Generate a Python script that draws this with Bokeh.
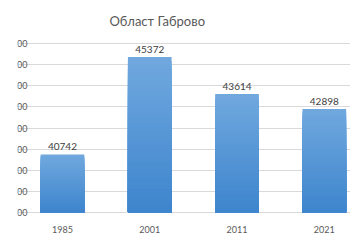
from bokeh.plotting import figure
from bokeh.models import ColumnDataSource, Label, FixedTicker, Range1d
from bokeh.embed import file_html
from bokeh.resources import INLINE

years = ["1985", "2001", "2011", "2021"]
population = [40742, 45372, 43614, 42898]
y_ticks = [38000, 39000, 40000, 41000, 42000, 43000, 44000, 45000, 46000]
title_text = "Област Габрово"

y_min, y_max = y_ticks[0], y_ticks[-1]
xs = list(range(len(years)))

p = figure(width=350, height=250, output_backend="svg", toolbar_location=None,
           x_range=Range1d(-0.515, 3.30), y_range=Range1d(y_min - 300, y_max + 300),
           min_border_left=17, min_border_right=0, min_border_top=37, min_border_bottom=32,
           background_fill_color="white", border_fill_color="white")
p.outline_line_color = None

p.title.text = title_text
p.title.align = "left"
p.title.offset = 92
p.title.text_font = "Lato"
p.title.text_font_size = "13px"
p.title.text_font_style = "normal"
p.title.text_color = "#595959"
p.title.standoff = 18

p.yaxis.visible = False
p.ygrid.ticker = FixedTicker(ticks=y_ticks)
p.ygrid.grid_line_color = "#d9d9d9"
p.xgrid.grid_line_color = None

ax = p.xaxis[0]
ax.ticker = FixedTicker(ticks=xs)
ax.major_label_overrides = {i: y for i, y in enumerate(years)}
ax.axis_line_color = None
ax.major_tick_line_color = None
ax.minor_tick_line_color = None
ax.major_label_text_font = "Lato"
ax.major_label_text_font_size = "9px"
ax.major_label_text_color = "#595959"
ax.major_label_standoff = 1

# bars with vertical gradient (darker at bottom, lighter at top), drawn as overlapping layers
n = 40
dark = (62, 133, 205)
light = (112, 168, 222)
for k in range(n):
    t = k / (n - 1)  # 0 -> full height (light), 1 -> shortest (dark)
    col = "#%02x%02x%02x" % tuple(int(round(l + (d - l) * t)) for d, l in zip(dark, light))
    tops = [y_min + (v - y_min) * (n - k) / n for v in population]
    p.vbar(x=xs, bottom=y_min, top=tops, width=0.5, fill_color=col, line_color=None)

src = ColumnDataSource(dict(x=xs, y=population, label=[str(v) for v in population]))
p.text(x="x", y="y", text="label", source=src, text_align="center", text_baseline="bottom",
       y_offset=-4, text_font_size="10px", text_color="#404040", text_font={"value": "Lato"})

for t in y_ticks:
    p.add_layout(Label(x=10, y=t, x_units="screen", y_units="data", text=str(t),
                       text_align="right", text_baseline="middle", text_font="Lato",
                       text_font_size="9px", text_color="#595959"))

open("out.html", "w").write(file_html(p, INLINE))
